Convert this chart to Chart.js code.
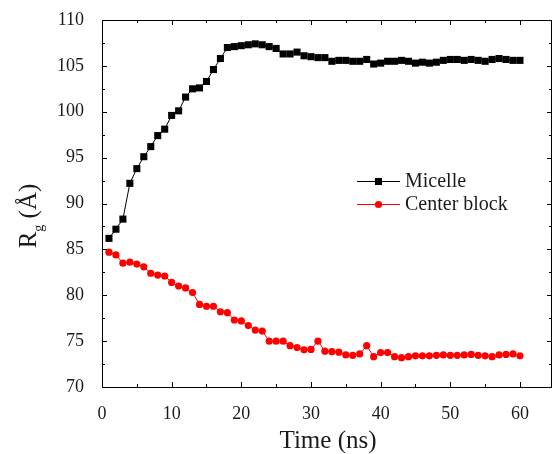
<!DOCTYPE html>
<html><head><meta charset="utf-8">
<script src="https://cdn.jsdelivr.net/npm/chart.js@4.4.0/dist/chart.umd.min.js"></script>
<style>html,body{margin:0;padding:0;background:#fff;}#wrap{width:553px;height:454px;}</style>
</head><body><div id="wrap"><canvas id="c" width="553" height="454"></canvas></div>
<script>
const timeNs = [1,2,3,4,5,6,7,8,9,10,11,12,13,14,15,16,17,18,19,20,21,22,23,24,25,26,27,28,29,30,31,32,33,34,35,36,37,38,39,40,41,42,43,44,45,46,47,48,49,50,51,52,53,54,55,56,57,58,59,60];
const micelle = [86.2,87.2,88.3,92.2,93.8,95.1,96.2,97.4,98.1,99.6,100.1,101.6,102.5,102.6,103.3,104.6,105.8,107.0,107.1,107.2,107.3,107.4,107.3,107.1,106.9,106.3,106.3,106.5,106.1,106.0,105.9,105.9,105.5,105.6,105.6,105.5,105.5,105.7,105.2,105.3,105.5,105.5,105.6,105.5,105.3,105.4,105.3,105.4,105.6,105.7,105.7,105.6,105.7,105.6,105.5,105.7,105.8,105.7,105.6,105.6];
const centerBlock = [84.7,84.4,83.5,83.6,83.4,83.1,82.4,82.2,82.1,81.4,81.0,80.8,80.3,79.0,78.8,78.8,78.2,78.1,77.3,77.2,76.7,76.2,76.1,75.0,75.0,75.0,74.5,74.3,74.05,74.1,75.0,73.9,73.85,73.8,73.5,73.45,73.6,74.5,73.3,73.75,73.75,73.3,73.2,73.3,73.4,73.4,73.4,73.45,73.5,73.45,73.45,73.5,73.55,73.45,73.4,73.3,73.5,73.55,73.6,73.4];
const xTickLabels = [0,10,20,30,40,50,60];
const yTickLabels = [70,75,80,85,90,95,100,105,110];
const seriesNames = ['Micelle','Center block'];
const xTitle = 'Time (ns)';
const yTitleMain = 'R', yTitleSub = 'g', yTitleUnit = ' (Å)';

const FONT = "'Liberation Serif','Times New Roman',serif";
const TXT = '#1a1a1a';

const framePlugin = {
  id: 'frame',
  afterDraw(chart) {
    const {ctx, chartArea: a, scales: {x, y}} = chart;
    ctx.save();
    ctx.strokeStyle = '#000';
    ctx.lineWidth = 1;
    ctx.beginPath();
    ctx.rect(Math.round(a.left) + 0.5, Math.round(a.top) + 0.5, Math.round(a.right - a.left) - 1, Math.round(a.bottom - a.top));
    ctx.stroke();
    ctx.beginPath();
    for (let v = 0; v < 64; v += 5) {
      const px = Math.round(x.getPixelForValue(v)) + 0.5;
      const L = (v % 10 === 0) ? 5 : 3;
      ctx.moveTo(px, a.bottom); ctx.lineTo(px, a.bottom - L);
      ctx.moveTo(px, a.top); ctx.lineTo(px, a.top + L);
    }
    for (let v = 70; v <= 110; v += 2.5) {
      const py = Math.round(y.getPixelForValue(v)) + 0.5;
      const L = (v % 5 === 0) ? 5 : 3;
      ctx.moveTo(a.left, py); ctx.lineTo(a.left + L, py);
      ctx.moveTo(a.right, py); ctx.lineTo(a.right - L, py);
    }
    ctx.stroke();

    // x title
    ctx.fillStyle = TXT;
    ctx.font = '25px ' + FONT;
    ctx.textAlign = 'center';
    ctx.textBaseline = 'alphabetic';
    ctx.fillText(xTitle, 328, 448);

    // y title rotated
    ctx.save();
    ctx.translate(36, 216);
    ctx.rotate(-Math.PI / 2);
    ctx.font = '25px ' + FONT;
    const wR = ctx.measureText(yTitleMain).width;
    ctx.font = '14px ' + FONT;
    const wg = ctx.measureText(yTitleSub).width;
    ctx.font = '25px ' + FONT;
    const wU = ctx.measureText(yTitleUnit).width;
    const total = wR + wg + wU;
    let cx = -total / 2;
    ctx.textAlign = 'left';
    ctx.fillText(yTitleMain, cx, 0); cx += wR;
    ctx.font = '14px ' + FONT;
    ctx.fillText(yTitleSub, cx, 7); cx += wg;
    ctx.font = '25px ' + FONT;
    ctx.fillText(yTitleUnit, cx, 0);
    ctx.restore();

    // legend
    chart.data.datasets.forEach((ds, i) => {
      const ly = 181 + i * 23;
      ctx.strokeStyle = ds.borderColor;
      ctx.fillStyle = ds.pointBackgroundColor;
      ctx.lineWidth = 1;
      ctx.beginPath(); ctx.moveTo(357, ly + 0.5); ctx.lineTo(400, ly + 0.5); ctx.stroke();
      Chart.helpers.drawPoint(ctx, {pointStyle: ds.pointStyle, radius: ds.pointRadius, borderWidth: 0}, 378.5, ly + 0.5);
      ctx.fillStyle = TXT;
      ctx.font = '20px ' + FONT;
      ctx.textAlign = 'left';
      ctx.textBaseline = 'middle';
      ctx.fillText(ds.label, 405, ly + 1);
    });
    ctx.restore();
  }
};

new Chart(document.getElementById('c'), {
  type: 'line',
  data: {
    datasets: [
      {
        label: seriesNames[0],
        data: timeNs.map((t, i) => ({x: t, y: micelle[i]})),
        borderColor: '#000', backgroundColor: '#000',
        pointBackgroundColor: '#000', pointBorderColor: '#000',
        pointStyle: 'rect', pointRadius: 5, pointBorderWidth: 0,
        borderWidth: 1, tension: 0
      },
      {
        label: seriesNames[1],
        data: timeNs.map((t, i) => ({x: t, y: centerBlock[i]})),
        borderColor: '#ff0000', backgroundColor: '#ff0000',
        pointBackgroundColor: '#ff0000', pointBorderColor: '#ff0000',
        pointStyle: 'circle', pointRadius: 3.6, pointBorderWidth: 0,
        borderWidth: 1, tension: 0
      }
    ]
  },
  options: {
    responsive: false, animation: false, devicePixelRatio: 1,
    layout: {autoPadding: false, padding: {top: 20, right: 1, left: 0, bottom: 0}},
    plugins: {legend: {display: false}, tooltip: {enabled: false}},
    scales: {
      x: {
        type: 'linear', min: 0, max: 64.6,
        grid: {display: false}, border: {display: false},
        afterBuildTicks: s => { s.ticks = xTickLabels.map(v => ({value: v})); },
        ticks: {
          autoSkip: false, maxRotation: 0, padding: 8,
          color: TXT, font: {family: FONT, size: 18},
          callback: v => String(v)
        },
        afterFit: s => { s.height = 67; s.paddingLeft = 0; s.paddingRight = 0; }
      },
      y: {
        type: 'linear', min: 70, max: 110,
        grid: {display: false}, border: {display: false},
        afterBuildTicks: s => { s.ticks = yTickLabels.map(v => ({value: v})); },
        ticks: {
          padding: 10, color: TXT, font: {family: FONT, size: 18},
          callback: v => String(v)
        },
        afterFit: s => { s.width = 102; s.paddingTop = 0; s.paddingBottom = 0; }
      }
    }
  },
  plugins: [framePlugin]
});
</script></body></html>
